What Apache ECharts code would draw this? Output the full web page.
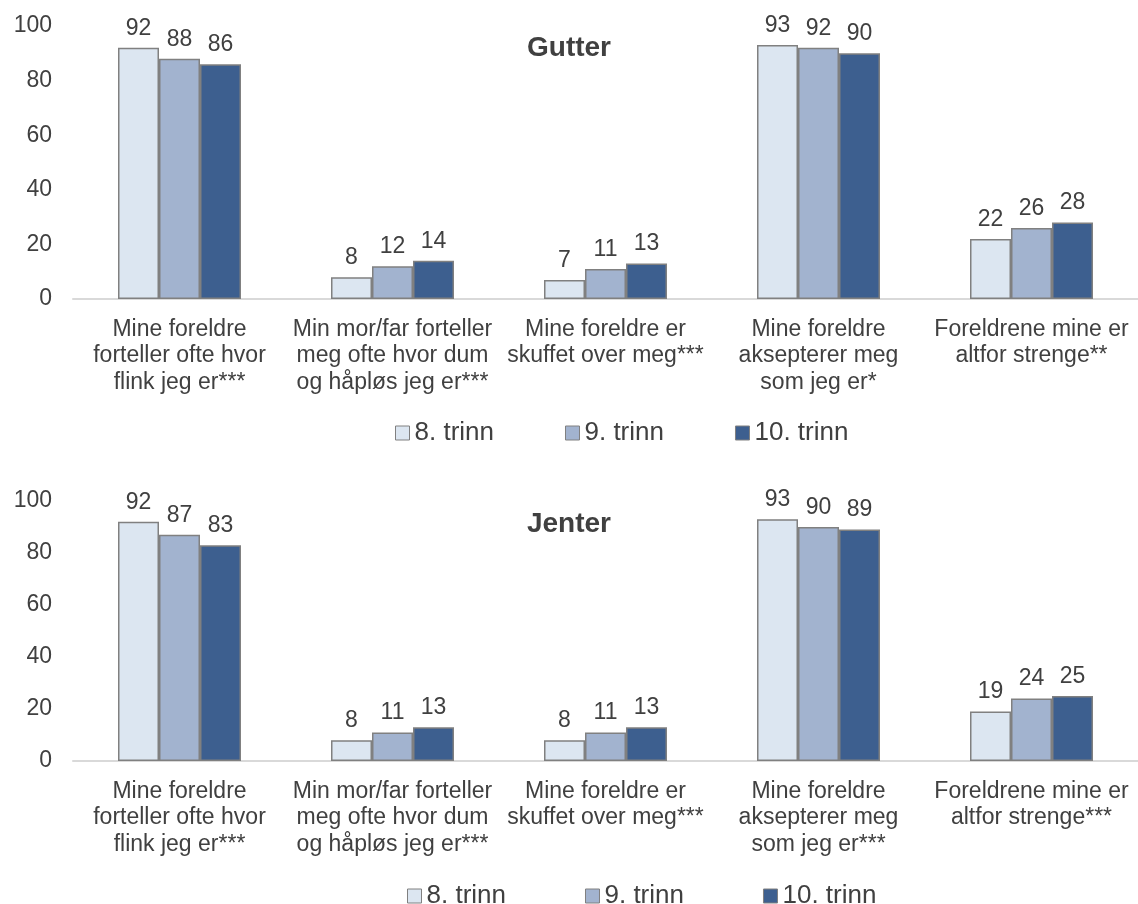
<!DOCTYPE html>
<html><head><meta charset="utf-8">
<script src="https://cdn.jsdelivr.net/npm/echarts@6/dist/echarts.min.js"></script>
<style>html,body{margin:0;padding:0;background:#fff}#c{width:1138px;height:904px}</style>
</head><body><div id="c"></div>
<script>
const seriesNames = ['8. trinn', '9. trinn', '10. trinn'];
const catsBoys = ['Mine foreldre\nforteller ofte hvor\nflink jeg er***', 'Min mor/far forteller\nmeg ofte hvor dum\nog håpløs jeg er***', 'Mine foreldre er\nskuffet over meg***', 'Mine foreldre\naksepterer meg\nsom jeg er*', 'Foreldrene mine er\naltfor strenge**'];
const catsGirls = ['Mine foreldre\nforteller ofte hvor\nflink jeg er***', 'Min mor/far forteller\nmeg ofte hvor dum\nog håpløs jeg er***', 'Mine foreldre er\nskuffet over meg***', 'Mine foreldre\naksepterer meg\nsom jeg er***', 'Foreldrene mine er\naltfor strenge***'];
const boys8 = [92, 8, 7, 93, 22];
const boys9 = [88, 12, 11, 92, 26];
const boys10 = [86, 14, 13, 90, 28];
const girls8 = [92, 8, 8, 93, 19];
const girls9 = [87, 11, 11, 90, 24];
const girls10 = [83, 13, 13, 89, 25];
const yTicks = [0, 20, 40, 60, 80, 100];

const colors = ['#DCE6F1', '#A2B3CF', '#3D5F8F'];
const txt = '#404040';
const font = 'Liberation Sans, Arial, sans-serif';
const chart = echarts.init(document.getElementById('c'), null, {renderer: 'canvas'});

function xAx(idx, cats) {
  return {
    type: 'category', gridIndex: idx, data: cats,
    axisTick: {show: false},
    axisLine: {lineStyle: {color: '#D9D9D9', width: 2}},
    axisLabel: {interval: 0, color: txt, fontSize: 23, fontFamily: font, lineHeight: 26.5, margin: 17}
  };
}
function yAx(idx) {
  return {
    type: 'value', gridIndex: idx, min: yTicks[0], max: yTicks[yTicks.length - 1], interval: 20,
    splitLine: {show: false}, axisLine: {show: false}, axisTick: {show: false},
    axisLabel: {color: txt, fontSize: 23, fontFamily: font, margin: 21}
  };
}
function ser(name, data, i, gi) {
  return {
    name: name, type: 'bar', xAxisIndex: gi, yAxisIndex: gi, data: data,
    barWidth: 41, barGap: '0%',
    itemStyle: {color: colors[i], borderColor: '#808080', borderWidth: 1.5},
    label: {show: true, position: 'top', distance: 8, color: txt, fontSize: 23, fontFamily: font}
  };
}
function legend(top, left, gap) {
  return {
    top: top, left: left, padding: 0, data: seriesNames, itemWidth: 14, itemHeight: 14, itemGap: gap,
    icon: 'rect',
    textStyle: {color: txt, fontSize: 26, fontFamily: font},
    itemStyle: {borderColor: '#808080', borderWidth: 1}
  };
}
chart.setOption({
  animation: false,
  textStyle: {fontFamily: font},
  title: [
    {text: 'Gutter', left: 'center', top: 29, textStyle: {fontSize: 28, fontWeight: 'bold', color: txt, fontFamily: font}},
    {text: 'Jenter', left: 'center', top: 505, textStyle: {fontSize: 28, fontWeight: 'bold', color: txt, fontFamily: font}}
  ],
  legend: [legend(420, 395, 71), legend(883, 407, 79)],
  grid: [
    {left: 73, right: 0, top: 26, height: 273},
    {left: 73, right: 0, top: 501, height: 260}
  ],
  xAxis: [xAx(0, catsBoys), xAx(1, catsGirls)],
  yAxis: [yAx(0), yAx(1)],
  series: [
    ser(seriesNames[0], boys8, 0, 0), ser(seriesNames[1], boys9, 1, 0), ser(seriesNames[2], boys10, 2, 0),
    ser(seriesNames[0], girls8, 0, 1), ser(seriesNames[1], girls9, 1, 1), ser(seriesNames[2], girls10, 2, 1)
  ]
});
</script></body></html>
